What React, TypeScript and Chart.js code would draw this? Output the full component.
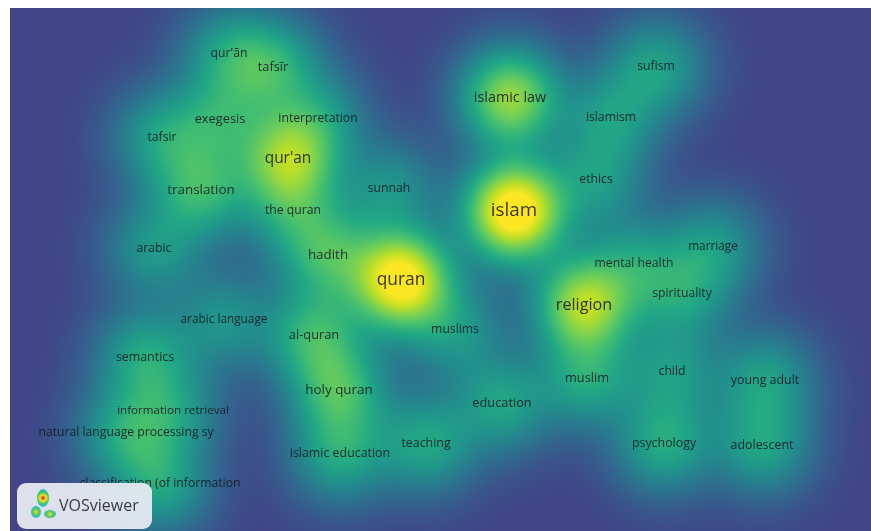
import React, { useEffect, useRef } from "react";
import { Chart, registerables } from "chart.js";
Chart.register(...registerables);

// Terms of the VOSviewer density map (map coordinates)
const terms = [
  "qur'ān", "tafsīr", "sufism", "islamic law", "islamism", "exegesis", "interpretation", "tafsir",
  "qur'an", "ethics", "translation", "sunnah", "islam", "the quran", "arabic", "marriage",
  "hadith", "mental health", "quran", "spirituality", "religion", "arabic language", "al-quran", "muslims",
  "semantics", "muslim", "child", "young adult", "holy quran", "education", "information retrieval",
  "natural language processing sy", "teaching", "psychology", "adolescent", "islamic education",
  "classification (of information",
];
const termX = [
  219, 263, 646, 500, 601, 210, 308, 152,
  278, 586, 191, 379, 504, 283, 144, 703,
  318, 624, 391, 672, 574, 214, 304, 445,
  135, 577, 662, 755, 329, 492, 163,
  116, 416, 654, 752, 330,
  150,
];
const termY = [
  46, 59, 59, 90, 110, 111, 111, 130,
  151, 172, 182, 181, 203, 203, 241, 239,
  247, 256, 272, 286, 297, 312, 327, 322,
  349, 370, 364, 372, 382, 395, 403,
  425, 435, 435, 437, 445,
  476,
];
const termWeight = [
  0.42, 0.5, 0.45, 0.8, 0.42, 0.44, 0.38, 0.44,
  0.74, 0.4, 0.55, 0.38, 1.1, 0.42, 0.4, 0.4,
  0.55, 0.4, 1.05, 0.42, 0.84, 0.38, 0.55, 0.4,
  0.48, 0.48, 0.4, 0.44, 0.58, 0.46, 0.38,
  0.46, 0.48, 0.5, 0.46, 0.48,
  0.46,
];
const termFont = [
  12.2, 12.8, 12.2, 14.4, 12.2, 12.8, 12.2, 12.2,
  15.4, 12.2, 13.4, 12.2, 18.8, 12.2, 12.2, 11.8,
  13.4, 12.2, 17.4, 12.2, 16.2, 11.8, 12.8, 12.2,
  12.4, 12.8, 12.2, 12.4, 13.4, 12.8, 11.6,
  12.2, 12.4, 12.4, 12.4, 12.4,
  12.2,
];

const X_MIN = 0, X_MAX = 861, Y_MIN = 0, Y_MAX = 523;
const KERNEL = 38; // kernel width in map units
const COMBINE_P = 1.4; // how overlapping kernels combine

const VIRIDIS: number[][] = [
  [68, 1, 84], [72, 36, 117], [65, 68, 135], [53, 95, 141], [42, 120, 142],
  [33, 145, 140], [34, 168, 132], [68, 191, 112], [122, 209, 81], [189, 223, 38], [253, 231, 37],
];
function viridis(t: number): number[] {
  t = Math.max(0, Math.min(1, t));
  const p = t * (VIRIDIS.length - 1);
  const i = Math.min(VIRIDIS.length - 2, Math.floor(p));
  const f = p - i;
  const a = VIRIDIS[i], b = VIRIDIS[i + 1];
  return [a[0] + (b[0] - a[0]) * f, a[1] + (b[1] - a[1]) * f, a[2] + (b[2] - a[2]) * f];
}

const densityPlugin = {
  id: "density",
  beforeDatasetsDraw(chart: any) {
    const { ctx, chartArea, scales } = chart;
    const xs = scales.x, ys = scales.y;
    const w = Math.round(chartArea.right - chartArea.left);
    const h = Math.round(chartArea.bottom - chartArea.top);
    const sig = Math.abs(xs.getPixelForValue(KERNEL) - xs.getPixelForValue(0));
    const pts = termX.map((vx, i) => ({
      px: xs.getPixelForValue(vx) - chartArea.left,
      py: ys.getPixelForValue(termY[i]) - chartArea.top,
      w: termWeight[i],
    }));
    const dens = new Float32Array(w * h);
    const cut = 3.5 * sig;
    const inv = 1 / (2 * sig * sig);
    for (const p of pts) {
      const x0 = Math.max(0, Math.floor(p.px - cut)), x1 = Math.min(w - 1, Math.ceil(p.px + cut));
      const y0 = Math.max(0, Math.floor(p.py - cut)), y1 = Math.min(h - 1, Math.ceil(p.py + cut));
      for (let yy = y0; yy <= y1; yy++) {
        const dy = yy - p.py;
        for (let xx = x0; xx <= x1; xx++) {
          const dx = xx - p.px;
          const v = p.w * Math.exp(-(dx * dx + dy * dy) * inv);
          dens[yy * w + xx] += Math.pow(v, COMBINE_P);
        }
      }
    }
    const img = new ImageData(w, h);
    const lut: number[][] = [];
    for (let k = 0; k <= 1000; k++) lut.push(viridis(0.2 + 0.8 * (k / 1000)));
    for (let i = 0; i < w * h; i++) {
      const d = Math.pow(dens[i], 1 / COMBINE_P);
      const c = lut[Math.min(1000, Math.round(Math.min(1, d) * 1000))];
      img.data[i * 4] = c[0];
      img.data[i * 4 + 1] = c[1];
      img.data[i * 4 + 2] = c[2];
      img.data[i * 4 + 3] = 255;
    }
    const off = document.createElement("canvas");
    off.width = w;
    off.height = h;
    off.getContext("2d")!.putImageData(img, 0, 0);
    ctx.drawImage(off, chartArea.left, chartArea.top);
  },
  afterDatasetsDraw(chart: any) {
    const { ctx } = chart;
    const meta = chart.getDatasetMeta(0);
    ctx.save();
    ctx.textAlign = "center";
    ctx.textBaseline = "middle";
    ctx.fillStyle = "rgba(20,20,30,0.85)";
    meta.data.forEach((el: any, i: number) => {
      ctx.font = `${termFont[i]}px "Open Sans", sans-serif`;
      ctx.fillText(terms[i], el.x, el.y);
    });
    ctx.restore();

    // VOSviewer badge
    const { chartArea } = chart;
    const bx = chartArea.left + 7, by = chartArea.bottom - 48;
    ctx.save();
    ctx.fillStyle = "rgba(236,238,244,0.92)";
    ctx.beginPath();
    (ctx as any).roundRect(bx, by, 135, 46, 9);
    ctx.fill();
    const blob = (cx: number, cy: number, rx: number, ry: number, stops: string[]) => {
      const g = ctx.createRadialGradient(cx, cy, 0, cx, cy, Math.max(rx, ry));
      stops.forEach((s, k) => g.addColorStop(k / (stops.length - 1), s));
      ctx.fillStyle = g;
      ctx.beginPath();
      ctx.ellipse(cx, cy, rx, ry, 0, 0, Math.PI * 2);
      ctx.fill();
    };
    blob(bx + 26, by + 15, 6, 9, ["#d0102a", "#f5e51f", "#33c46a", "#2fb8e6"]);
    blob(bx + 19, by + 29, 5, 6, ["#f2e62a", "#55c95a", "#30b6e4"]);
    blob(bx + 33, by + 31, 6, 4, ["#f2e62a", "#55c95a", "#30b6e4"]);
    ctx.fillStyle = "#3a3a44";
    ctx.font = `16px "Open Sans", sans-serif`;
    ctx.textAlign = "left";
    ctx.textBaseline = "middle";
    ctx.fillText("VOSviewer", bx + 42, by + 23);
    ctx.restore();
  },
};

export default function App() {
  const ref = useRef<HTMLCanvasElement | null>(null);
  useEffect(() => {
    if (!ref.current) return;
    const chart = new Chart(ref.current, {
      type: "scatter",
      data: {
        datasets: [
          {
            data: termX.map((x, i) => ({ x, y: termY[i] })),
            pointRadius: 0,
            pointHoverRadius: 0,
          },
        ],
      },
      options: {
        animation: false,
        responsive: false,
        maintainAspectRatio: false,
        layout: { padding: 0 },
        events: [],
        plugins: { legend: { display: false }, tooltip: { enabled: false } },
        scales: {
          x: { type: "linear", min: X_MIN, max: X_MAX, display: false },
          y: { type: "linear", min: Y_MIN, max: Y_MAX, reverse: true, display: false },
        },
      },
      plugins: [densityPlugin],
    });
    return () => chart.destroy();
  }, []);
  return (
    <div style={{ position: "fixed", left: 10, top: 8, width: 861, height: 523 }}>
      <canvas ref={ref} width={861} height={523} style={{ display: "block" }} />
    </div>
  );
}
